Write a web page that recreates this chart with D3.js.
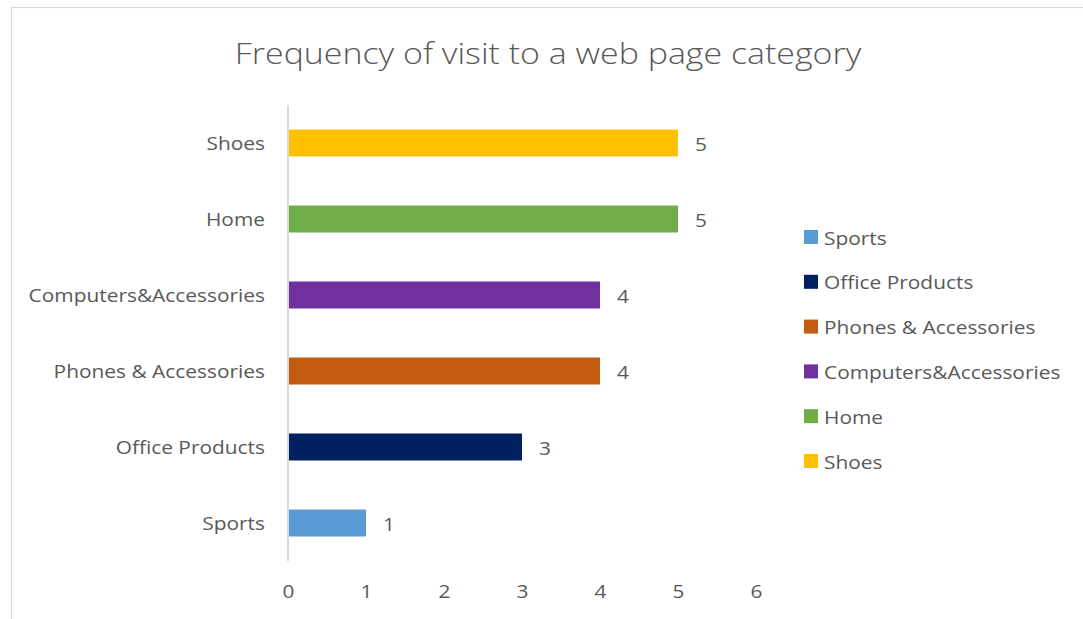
<!DOCTYPE html>
<html>
<head>
<meta charset="utf-8">
<script src="https://cdn.jsdelivr.net/npm/d3@7"></script>
<style>
  html, body { margin: 0; padding: 0; background: #fff; }
  svg { display: block; }
  text { font-family: "Open Sans", Lato, sans-serif; fill: #595959; }
</style>
</head>
<body>
<svg id="chart" width="1083" height="619"></svg>
<script>
// Categories, bottom to top as they appear on the axis
const categories = ["Sports", "Office Products", "Phones & Accessories", "Computers&Accessories", "Home", "Shoes"];
const visits = [1, 3, 4, 4, 5, 5];
const colors = ["#5B9BD5", "#002060", "#C55A11", "#7030A0", "#70AD47", "#FFC000"];
const xTicks = [0, 1, 2, 3, 4, 5, 6];
const title = "Frequency of visit to a web page category";

const FONT = "'Open Sans', Lato, sans-serif";
const WIDE = 1.13;   // horizontal widening of the label type

// widen text horizontally around its own anchor point
function widen(sel, sx) {
  sel.each(function () {
    const t = d3.select(this);
    const tx = +t.attr("x") || 0, ty = +t.attr("y") || 0;
    t.attr("x", 0).attr("y", 0)
     .attr("transform", `translate(${tx},${ty}) scale(${sx},1)`);
  });
}

const svg = d3.select("#chart");

// chart area frame
svg.append("rect")
  .attr("x", 11.5).attr("y", 7.5)
  .attr("width", 1200).attr("height", 700)
  .attr("fill", "#fff").attr("stroke", "#d9d9d9").attr("stroke-width", 1.2);

svg.append("text")
  .attr("x", 548).attr("y", 64)
  .attr("text-anchor", "middle")
  .style("font-size", "29px")
  .style("font-weight", 300)
  .text(title)
  .call(widen, 1.17);

const x = d3.scaleLinear().domain([0, 6]).range([288, 756]);
const y = d3.scaleBand()
  .domain(categories.slice().reverse())
  .range([105, 561])
  .paddingInner(0.645)
  .paddingOuter(0.3225);

// category axis line
svg.append("line")
  .attr("x1", x(0)).attr("x2", x(0))
  .attr("y1", 105).attr("y2", 561)
  .attr("stroke", "#d9d9d9").attr("stroke-width", 2);

// category labels
const yAxis = svg.append("g")
  .attr("transform", `translate(${x(0)},1)`)
  .call(d3.axisLeft(y).tickSize(0).tickPadding(23));
yAxis.select(".domain").remove();
yAxis.selectAll("text")
  .style("font-size", "18.5px")
  .style("font-family", FONT)
  .attr("fill", "#595959")
  .call(widen, WIDE);

// value axis labels (no line)
const xAxis = svg.append("g")
  .attr("transform", "translate(0,561)")
  .call(d3.axisBottom(x).tickValues(xTicks).tickSize(0).tickPadding(24).tickFormat(d3.format("d")));
xAxis.select(".domain").remove();
xAxis.selectAll("text")
  .style("font-size", "18.5px")
  .style("font-family", FONT)
  .attr("fill", "#595959")
  .call(widen, WIDE);

const data = categories.map((c, i) => ({ cat: c, v: visits[i], color: colors[i] }));

svg.append("g").selectAll("rect")
  .data(data).join("rect")
  .attr("x", x(0) + 1)
  .attr("y", d => y(d.cat))
  .attr("width", d => x(d.v) - x(0) - 1)
  .attr("height", y.bandwidth())
  .attr("fill", d => d.color);

svg.append("g").selectAll("text")
  .data(data).join("text")
  .attr("x", d => x(d.v) + 17)
  .attr("y", d => y(d.cat) + y.bandwidth() / 2 + 1)
  .attr("dy", "0.36em")
  .style("font-size", "18.5px")
  .text(d => d.v)
  .call(widen, WIDE);

// legend
const legend = svg.append("g").selectAll("g")
  .data(data).join("g")
  .attr("transform", (d, i) => `translate(804,${237 + i * 44.8})`);
legend.append("rect")
  .attr("x", 0).attr("y", -7)
  .attr("width", 14).attr("height", 14)
  .attr("fill", d => d.color);
legend.append("text")
  .attr("x", 20).attr("y", 1).attr("dy", "0.36em")
  .style("font-size", "18.5px")
  .text(d => d.cat)
  .call(widen, WIDE);
</script>
</body>
</html>
